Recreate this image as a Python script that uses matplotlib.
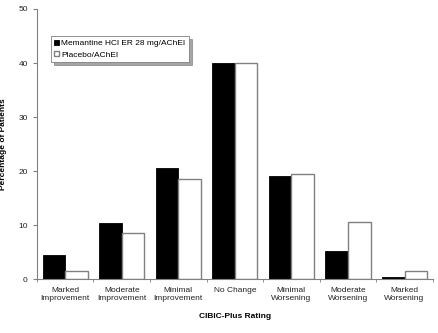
import numpy as np
import matplotlib.pyplot as plt

plt.rcParams['font.family'] = ['Liberation Sans', 'DejaVu Sans']

categories = ['Marked\nImprovement', 'Moderate\nImprovement', 'Minimal\nImprovement',
              'No Change', 'Minimal\nWorsening', 'Moderate\nWorsening', 'Marked\nWorsening']
memantine = [4.5, 10.4, 20.5, 40.0, 19.0, 5.2, 0.4]
placebo = [1.5, 8.5, 18.5, 40.0, 19.5, 10.5, 1.5]

fig = plt.figure(figsize=(4.39, 3.33), dpi=100)
ax = fig.add_axes([0.084, 0.162, 0.902, 0.811])

x = np.arange(len(categories))
w = 0.4
ax.bar(x - w/2, memantine, w, color='black', edgecolor='black', lw=0.6,
       label='Memantine HCl ER 28 mg/AChEI')
ax.bar(x + w/2, placebo, w, color='white', edgecolor='#808080', lw=1.0,
       label='Placebo/AChEI')

ax.set_xlim(-0.5, len(categories) - 0.5)
ax.set_ylim(0, 50)
ax.set_yticks(range(0, 51, 10))
ax.set_xticks(x)
ax.set_xticklabels(categories, fontsize=6, color='#222222')
ax.tick_params(axis='x', length=0, pad=6)
ax.set_xticks(np.arange(-0.5, len(categories)), minor=True)
ax.tick_params(axis='x', which='minor', length=2, direction='out', color='#808080')
ax.tick_params(axis='y', labelsize=6, length=3, color='#808080', labelcolor='#222222')

for s in ['top', 'right']:
    ax.spines[s].set_visible(False)
for s in ['left', 'bottom']:
    ax.spines[s].set_color('#808080')
    ax.spines[s].set_linewidth(0.8)

ax.set_ylabel('Percentage of Patients', fontsize=6, fontweight='bold', labelpad=8)
ax.set_xlabel('CIBIC-Plus Rating', fontsize=6, fontweight='bold', labelpad=8)

leg = ax.legend(loc='upper left', bbox_to_anchor=(0.035, 0.9), fontsize=6,
                frameon=True, fancybox=False, shadow=True, handlelength=0.6,
                handleheight=0.6, handletextpad=0.2, borderpad=0.45,
                labelspacing=0.45, borderaxespad=0)
leg.get_frame().set_edgecolor('#808080')
leg.get_frame().set_linewidth(0.6)

fig.savefig('out.png', dpi=100)
